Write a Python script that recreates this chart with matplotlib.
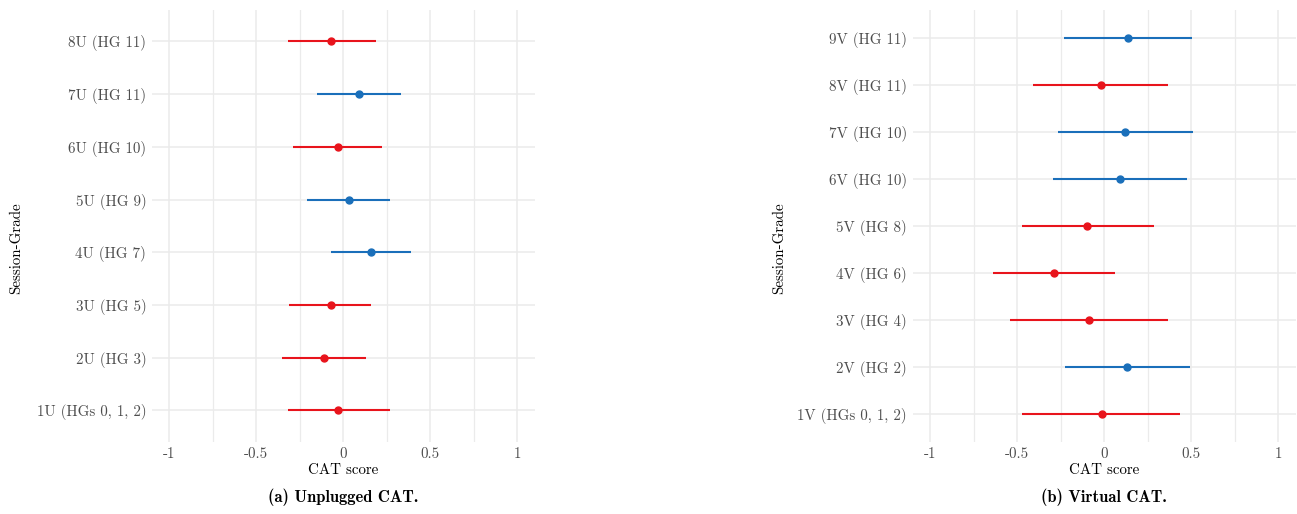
import matplotlib
matplotlib.use('Agg')
import matplotlib.pyplot as plt

# unplugged CAT
u_labels = ['1U (HGs 0, 1, 2)', '2U (HG 3)', '3U (HG 5)', '4U (HG 7)',
            '5U (HG 9)', '6U (HG 10)', '7U (HG 11)', '8U (HG 11)']
u_est = [-0.03, -0.11, -0.07, 0.16, 0.03, -0.03, 0.09, -0.07]
u_lo = [-0.32, -0.35, -0.31, -0.07, -0.21, -0.29, -0.15, -0.32]
u_hi = [0.27, 0.13, 0.16, 0.39, 0.27, 0.22, 0.33, 0.19]

# virtual CAT
v_labels = ['1V (HGs 0, 1, 2)', '2V (HG 2)', '3V (HG 4)', '4V (HG 6)',
            '5V (HG 8)', '6V (HG 10)', '7V (HG 10)', '8V (HG 11)', '9V (HG 11)']
v_est = [-0.015, 0.134, -0.087, -0.289, -0.096, 0.09, 0.122, -0.02, 0.136]
v_lo = [-0.47, -0.224, -0.539, -0.639, -0.474, -0.291, -0.265, -0.411, -0.228]
v_hi = [0.438, 0.492, 0.367, 0.063, 0.285, 0.476, 0.512, 0.369, 0.504]

x_ticks = [-1, -0.5, 0, 0.5, 1]
x_ticklabels = ['-1', '-0.5', '0', '0.5', '1']
x_minor = [-0.75, -0.25, 0.25, 0.75]

RED = '#e8141c'
BLUE = '#1a6fba'
FS = 10.8

plt.rcParams['font.family'] = 'cmr10'
plt.rcParams['axes.unicode_minus'] = False

W, H = 1297, 514
fig = plt.figure(figsize=(W / 100., H / 100.), dpi=100)


def panel(rect, labels, est, lo, hi, caption, ylab_x):
    ax = fig.add_axes(rect)
    n = len(labels)
    ys = list(range(1, n + 1))
    for y, e, l, h in zip(ys, est, lo, hi):
        c = BLUE if e > 0 else RED
        ax.plot([l, h], [y, y], '-', color=c, lw=1.5, solid_capstyle='butt', zorder=3)
        ax.plot(e, y, 'o', color=c, ms=5, zorder=4)
    ax.set_xlim(-1.1, 1.1)
    ax.set_ylim(0.4, n + 0.6)
    ax.set_xticks(x_ticks)
    ax.set_xticklabels(x_ticklabels)
    ax.set_xticks(x_minor, minor=True)
    ax.set_yticks(ys)
    ax.set_yticklabels(labels)
    ax.grid(True, which='major', color='#ebebeb', lw=1.1, zorder=0)
    ax.grid(True, which='minor', axis='x', color='#ebebeb', lw=0.9, zorder=0)
    for s in ax.spines.values():
        s.set_visible(False)
    ax.tick_params(which='both', length=0, labelsize=FS, labelcolor='#4d4d4d')
    ax.tick_params(axis='y', pad=4)
    ax.tick_params(axis='x', pad=3.5)
    ax.set_xlabel('CAT score', fontsize=FS, labelpad=2)
    ax.set_ylabel('Session-Grade', fontsize=FS)
    ax.yaxis.set_label_coords(ylab_x, 0.449)
    ax.text(0.5, -0.128, caption, transform=ax.transAxes, ha='center', va='center',
            fontsize=11.9, family='cmb10')
    return ax


bottom = 1 - 442.0 / H
height = (442.0 - 9.8) / H
panel([151.9 / W, bottom, 382.8 / W, height], u_labels, u_est, u_lo, u_hi,
      '(a) Unplugged CAT.', -0.337)
panel([912.6 / W, bottom, 383.1 / W, height], v_labels, v_est, v_lo, v_hi,
      '(b) Virtual CAT.', -0.329)

fig.savefig('out.png', dpi=100, facecolor='white')
